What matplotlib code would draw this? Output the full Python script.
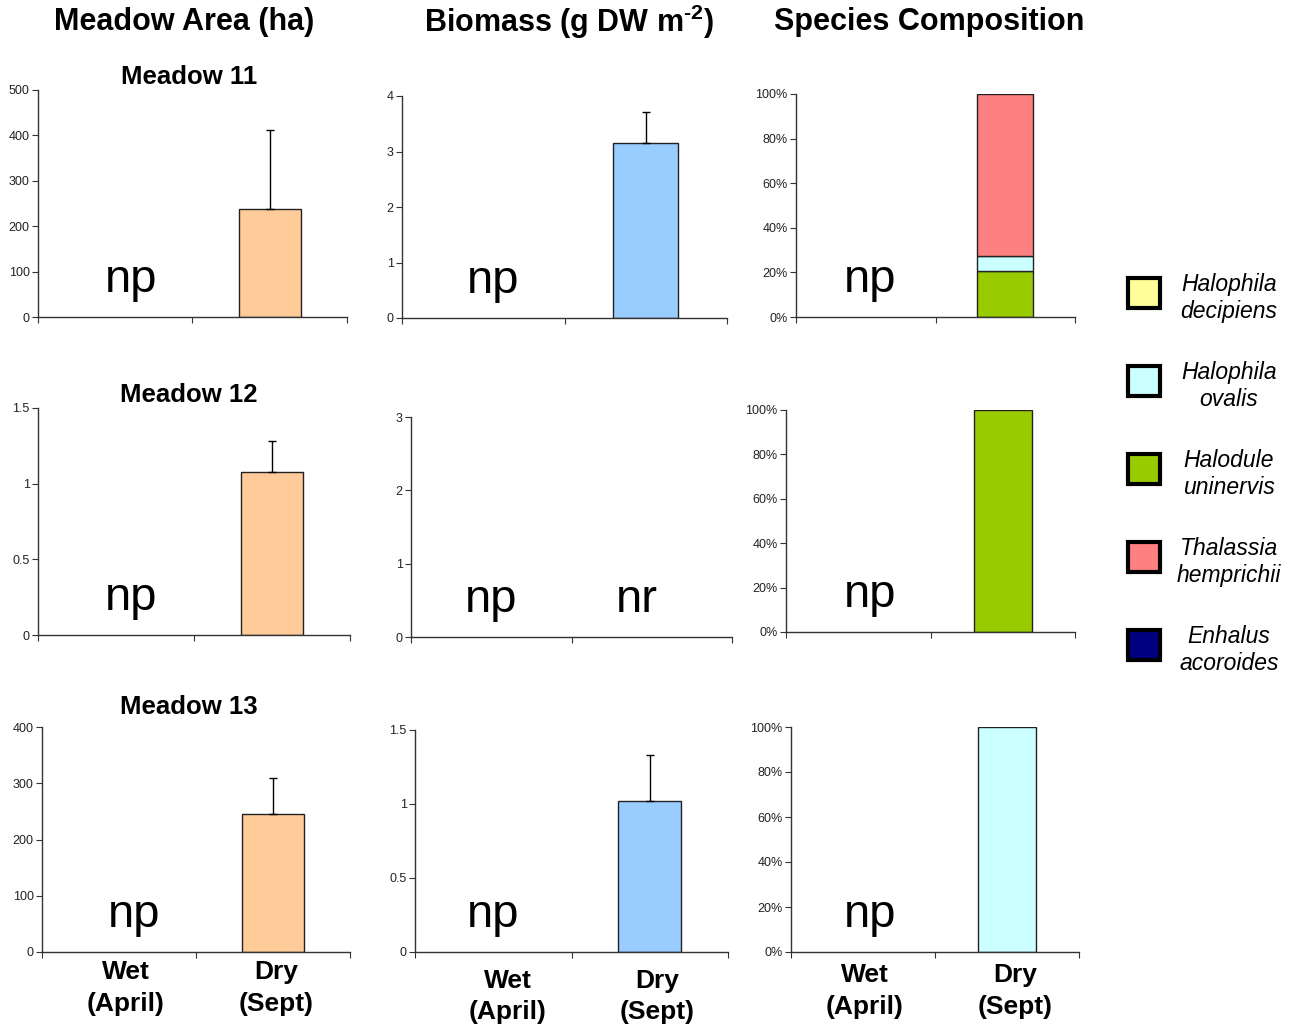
import numpy as np
import matplotlib
matplotlib.use("Agg")
from matplotlib import pyplot as plt
from matplotlib.patches import Rectangle
from matplotlib.ticker import FuncFormatter

plt.rcParams['font.family'] = ['Liberation Sans', 'DejaVu Sans']
plt.rcParams['mathtext.fontset'] = 'custom'
plt.rcParams['mathtext.bf'] = 'Liberation Sans:bold'
plt.rcParams['mathtext.rm'] = 'Liberation Sans:bold'
plt.rcParams['mathtext.default'] = 'bf'

# data
seasons = ['Wet\n(April)', 'Dry\n(Sept)']
meadows = ['Meadow 11', 'Meadow 12', 'Meadow 13']
col_titles = ['Meadow Area (ha)', r'Biomass (g DW m$^{\text{-2}}$)', 'Species Composition']

area_dry = [237, 1.08, 245]
area_err = [175, 0.20, 65]
area_ymax = [500, 1.5, 400]
area_yticks = [[0, 100, 200, 300, 400, 500], [0, 0.5, 1, 1.5], [0, 100, 200, 300, 400]]

biomass_dry = [3.15, None, 1.02]
biomass_err = [0.57, None, 0.31]
biomass_ymax = [4, 3, 1.5]
biomass_yticks = [[0, 1, 2, 3, 4], [0, 1, 2, 3], [0, 0.5, 1, 1.5]]

species = ['Halophila\ndecipiens', 'Halophila\novalis', 'Halodule\nuninervis',
           'Thalassia\nhemprichii', 'Enhalus\nacoroides']
species_colors = ['#FFFF99', '#CCFFFF', '#99CC00', '#FF8080', '#000080']
# percent composition in dry season, per meadow (order as species list)
comp_dry = [[0, 7, 20.5, 72.5, 0],
            [0, 0, 100, 0, 0],
            [0, 100, 0, 0, 0]]
stack_order = [2, 1, 3, 0, 4]   # bottom to top

W, H = 1301, 1028
fig = plt.figure(figsize=(W / 100, H / 100), dpi=100)

# axes boxes in pixels: left, top, right, bottom
boxes = [[(38, 90, 347, 317), (402, 96, 727, 318), (796, 94, 1075, 317)],
         [(38, 408, 350, 635), (411, 417, 732, 637), (786, 410, 1075, 632)],
         [(42, 727, 350, 952), (415, 730, 728, 952), (791, 727, 1079, 952)]]
np_x = [[0.1, 0.06, 0.03], [0.1, 0.0, 0.08], [0.1, 0.0, 0.05]]
label_x = [[0.045, 1.02], [0.094, 1.05], [0.014, 1.056]]
label_pad = [6, 12, 8]


def make_ax(b):
    l, t, r, bt = b
    ax = fig.add_axes([l / W, 1 - bt / H, (r - l) / W, (bt - t) / H])
    for s in ['top', 'right']:
        ax.spines[s].set_visible(False)
    for s in ['left', 'bottom']:
        ax.spines[s].set_color('#333333')
        ax.spines[s].set_linewidth(1.0)
    ax.set_xlim(-0.5, 1.5)
    ax.set_xticks([-0.5, 0.5, 1.5])
    ax.set_xticklabels([])
    ax.tick_params(axis='x', which='major', direction='out', length=4, color='#333333')
    ax.tick_params(axis='y', direction='out', length=4, labelsize=9, color='#333333',
                   labelcolor='#222222', pad=2)
    ax.np_y = 37 / (bt - t)
    return ax


def np_text(ax, x, txt='np'):
    ax.text(x, ax.np_y, txt, transform=ax.get_xaxis_transform(), fontsize=34,
            ha='center', va='center')


err_style = dict(elinewidth=1, capthick=1, ecolor='black')

for i in range(3):
    # meadow area
    ax = make_ax(boxes[i][0])
    ax.bar([1], [area_dry[i]], width=0.4, color='#FFCC99', edgecolor='#222222', linewidth=1,
           yerr=[[0], [area_err[i]]], capsize=3, error_kw=err_style)
    ax.set_ylim(0, area_ymax[i])
    ax.set_yticks(area_yticks[i])
    ax.yaxis.set_major_formatter(FuncFormatter(lambda v, p: '%g' % v))
    np_text(ax, np_x[i][0])

    # biomass
    ax = make_ax(boxes[i][1])
    if biomass_dry[i] is not None:
        ax.bar([1], [biomass_dry[i]], width=0.4, color='#99CCFF', edgecolor='#222222', linewidth=1,
               yerr=[[0], [biomass_err[i]]], capsize=3, error_kw=err_style)
    else:
        np_text(ax, 0.91, 'nr')
    ax.set_ylim(0, biomass_ymax[i])
    ax.set_yticks(biomass_yticks[i])
    ax.yaxis.set_major_formatter(FuncFormatter(lambda v, p: '%g' % v))
    np_text(ax, np_x[i][1])

    # species composition
    ax = make_ax(boxes[i][2])
    bottom = 0
    for k in stack_order:
        v = comp_dry[i][k]
        if v > 0:
            ax.bar([1], [v], bottom=bottom, width=0.4, color=species_colors[k],
                   edgecolor='#222222', linewidth=1)
            bottom += v
    ax.set_ylim(0, 100)
    ax.set_yticks([0, 20, 40, 60, 80, 100])
    ax.yaxis.set_major_formatter(FuncFormatter(lambda v, p: '%d%%' % v))
    np_text(ax, np_x[i][2])

# season labels under the bottom row
for j, ax_ in enumerate(fig.axes[-3:]):
    ax_.set_xticks(label_x[j], minor=True)
    ax_.set_xticklabels(seasons, minor=True, fontsize=19, fontweight='bold', linespacing=1.4)
    ax_.tick_params(axis='x', which='minor', length=0, pad=label_pad[j])

# meadow titles
for name, y in zip(meadows, [77, 395, 707]):
    fig.text(189 / W, 1 - y / H, name, fontsize=18.5, fontweight='bold', ha='center', va='center')

# column titles
for t, x in zip(col_titles, [184, 569, 929]):
    fig.text(x / W, 1 - 22 / H, t, fontsize=22, fontweight='bold', ha='center', va='center')

# legend
for k, (name, c) in enumerate(zip(species, species_colors)):
    yc = 293 + 88 * k
    fig.add_artist(Rectangle((1128 / W, 1 - (yc + 15) / H), 32 / W, 30 / H,
                             transform=fig.transFigure, facecolor=c, edgecolor='black', linewidth=3))
    fig.text(1229 / W, 1 - (yc + 5) / H, name, fontsize=16.5, style='italic', ha='center',
             va='center', linespacing=1.25)

fig.savefig('out.png', dpi=100)
